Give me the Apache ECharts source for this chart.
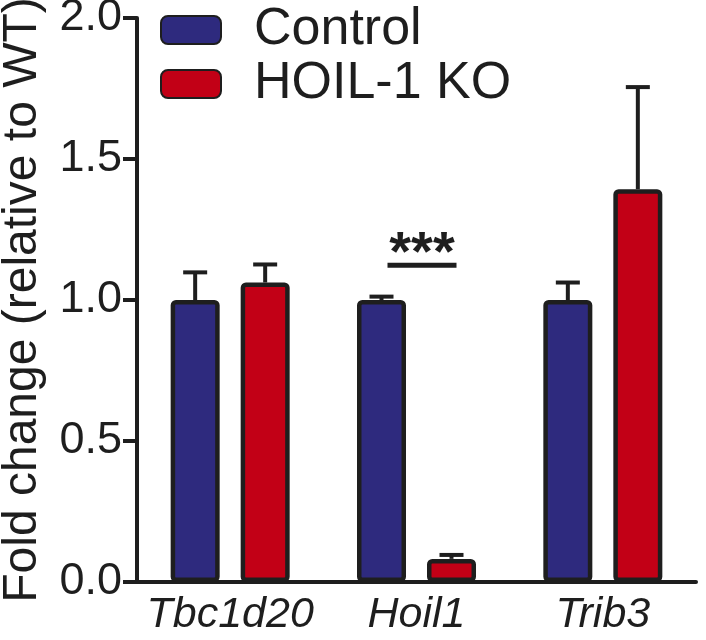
<!DOCTYPE html>
<html><head><meta charset="utf-8">
<script src="https://cdn.jsdelivr.net/npm/echarts@6/dist/echarts.min.js"></script>
<style>html,body{margin:0;padding:0;background:#fff}#c{width:706px;height:640px}</style>
</head><body><div id="c"></div>
<script>
const categories = ['Tbc1d20', 'Hoil1', 'Trib3'];
const seriesNames = ['Control', 'HOIL-1 KO'];
const controlMean = [1.0, 1.0, 1.0];
const controlErr = [0.098, 0.012, 0.062];
const koMean = [1.062, 0.082, 1.393];
const koErr = [0.064, 0.014, 0.362];
const yTicks = [0, 0.5, 1.0, 1.5, 2.0];
const sigCategory = 'Hoil1';
const sigLevel = 1.123;
const sigText = '***';

const FONT = '"Liberation Sans", Arial, sans-serif';
const INK = '#1e1e1e';
const BLUE = '#2e2a7e';
const RED = '#c20016';
const BAR_W = 49, BAR_GAP = 21;

function errSeries(means, errs, side) {
  return {
    type: 'custom',
    z: 5,
    data: means.map((m, i) => [i, m, m + errs[i]]),
    renderItem: function (params, api) {
      const c = api.coord([api.value(0), api.value(1)]);
      const t = api.coord([api.value(0), api.value(2)]);
      const x = c[0] + side * (BAR_W + BAR_GAP) / 2;
      const style = { stroke: INK, lineWidth: 4 };
      return {
        type: 'group',
        children: [
          { type: 'line', shape: { x1: x, y1: c[1], x2: x, y2: t[1] }, style: style },
          { type: 'line', shape: { x1: x - 12, y1: t[1], x2: x + 12, y2: t[1] }, style: style }
        ]
      };
    }
  };
}

const chart = echarts.init(document.getElementById('c'));
chart.setOption({
  animation: false,
  grid: { left: 137, right: 10, top: 18, bottom: 58, containLabel: false, outerBoundsMode: 'none' },
  legend: {
    orient: 'vertical', left: 160, top: 4, padding: 0, itemWidth: 60, itemHeight: 28, itemGap: 2,
    data: seriesNames,
    textStyle: { fontFamily: FONT, fontSize: 52, lineHeight: 40, color: INK, padding: [0, 0, 0, 28] }
  },
  xAxis: {
    type: 'category', data: categories,
    axisLine: { lineStyle: { color: INK, width: 4 } },
    axisTick: { alignWithLabel: true, length: 12, lineStyle: { color: INK, width: 4 } },
    axisLabel: { interval: 0, fontFamily: FONT, fontSize: 43, fontStyle: 'italic', color: INK, margin: 12 }
  },
  yAxis: {
    type: 'value', min: yTicks[0], max: yTicks[yTicks.length - 1], interval: 0.5,
    name: 'Fold change (relative to WT)', nameLocation: 'middle', nameGap: 90, nameMoveOverlap: false,
    nameTextStyle: { fontFamily: FONT, fontSize: 48, color: INK },
    axisLine: { show: true, lineStyle: { color: INK, width: 4 } },
    axisTick: { show: true, length: 14, lineStyle: { color: INK, width: 4 } },
    splitLine: { show: false },
    axisLabel: { fontFamily: FONT, fontSize: 45, color: INK, margin: 15,
      formatter: v => v.toFixed(1) }
  },
  series: [
    { name: seriesNames[0], type: 'bar', data: controlMean, barWidth: BAR_W, barGap: (BAR_GAP / BAR_W * 100) + '%',
      itemStyle: { color: BLUE, borderColor: INK, borderWidth: 4.5, borderRadius: 3 } },
    { name: seriesNames[1], type: 'bar', data: koMean, barWidth: BAR_W,
      itemStyle: { color: RED, borderColor: INK, borderWidth: 4.5, borderRadius: 3 } },
    errSeries(controlMean, controlErr, -1),
    errSeries(koMean, koErr, 1),
    {
      type: 'custom', z: 6,
      data: [[categories.indexOf(sigCategory), sigLevel]],
      renderItem: function (params, api) {
        const p = api.coord([api.value(0), api.value(1)]);
        const x1 = p[0] - 29, x2 = p[0] + 40;
        return {
          type: 'group',
          children: [
            { type: 'line', shape: { x1: x1, y1: p[1], x2: x2, y2: p[1] }, style: { stroke: INK, lineWidth: 5 } },
            { type: 'text', style: { text: sigText, x: (x1 + x2) / 2, y: p[1] + 17, align: 'center', verticalAlign: 'bottom',
              font: 'bold 56px ' + FONT, fill: INK } }
          ]
        };
      }
    }
  ]
});
</script></body></html>
